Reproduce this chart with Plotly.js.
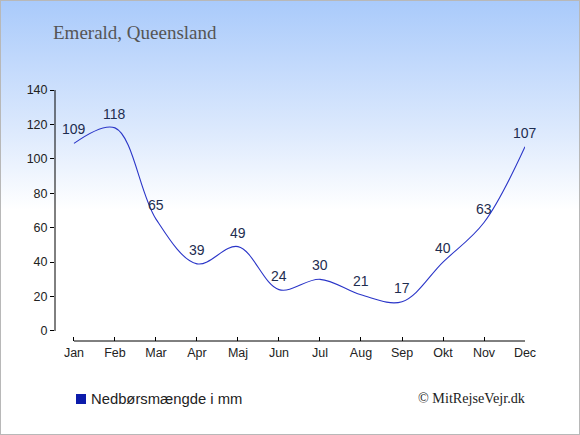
<!DOCTYPE html>
<html>
<head>
<meta charset="utf-8">
<script src="https://cdn.plot.ly/plotly-3.0.1.min.js"></script>
<style>
html,body{margin:0;padding:0;background:#fff;}
#wrap{position:relative;width:580px;height:435px;background:linear-gradient(to bottom,#a9cafb 0px,#dce9fd 130px,#ffffff 210px,#ffffff 435px);}
#chart{position:absolute;left:0;top:0;width:580px;height:435px;}
#border{position:absolute;left:0;top:0;width:580px;height:435px;box-sizing:border-box;border:1px solid #b8b8b8;pointer-events:none;}
</style>
</head>
<body>
<div id="wrap"><div id="chart"></div><div id="border"></div></div>
<script>
const months = ["Jan","Feb","Mar","Apr","Maj","Jun","Jul","Aug","Sep","Okt","Nov","Dec"];
const rainfall = [109,118,65,39,49,24,30,21,17,40,63,107];
const yTicks = [0,20,40,60,80,100,120,140];
const titleText = "Emerald, Queensland";
const legendText = "Nedbørsmængde i mm";
const creditText = "© MitRejseVejr.dk";

const xIdx = months.map((m,i)=>i);

const trace = {
  x: xIdx,
  y: rainfall,
  mode: "lines",
  line: {shape: "spline", smoothing: 1, color: "#2a35c8", width: 1.1},
  hoverinfo: "none",
  showlegend: false
};

const valueLabels = rainfall.map((v,i)=>({
  text: String(v), xref: "x", yref: "y", x: xIdx[i], y: v,
  xanchor: "center", yanchor: "middle", yshift: 14, showarrow: false,
  font: {family: "Liberation Sans, Arial, sans-serif", size: 14, color: "#1e2d50"}
}));

const layout = {
  width: 580, height: 435,
  margin: {l: 55, r: 55, t: 90, b: 94},
  paper_bgcolor: "rgba(0,0,0,0)",
  plot_bgcolor: "rgba(0,0,0,0)",
  showlegend: false,
  xaxis: {
    range: [-0.463, 11],
    tickvals: xIdx, ticktext: months,
    ticks: "inside", ticklen: 4, tickcolor: "#000", tickwidth: 1,
    showgrid: false, zeroline: false, showline: false,
    tickfont: {family: "Liberation Sans, Arial, sans-serif", size: 12.5, color: "#222"},
    ticklabelstandoff: 2,
    fixedrange: true
  },
  yaxis: {
    range: [-5.833, 140],
    tickvals: yTicks,
    ticks: "outside", ticklen: 4, tickcolor: "#000", tickwidth: 1,
    showgrid: false, zeroline: false, showline: false,
    tickfont: {family: "Liberation Sans, Arial, sans-serif", size: 12.5, color: "#222"},
    fixedrange: true
  },
  shapes: [
    {type: "line", xref: "paper", yref: "y", x0: 0, x1: 0, y0: 0, y1: 140, line: {color: "#000", width: 1}},
    {type: "line", xref: "x", yref: "paper", x0: 0, x1: 11, y0: 0, y1: 0, line: {color: "#000", width: 1}},
    {type: "rect", xref: "paper", yref: "paper", xsizemode: "pixel", ysizemode: "pixel",
     xanchor: 0, yanchor: 0, x0: 76 - 55, x1: 86 - 55, y0: -(394 - 341), y1: -(404 - 341),
     fillcolor: "#0c1cab", line: {width: 0}}
  ],
  annotations: [
    {text: titleText, xref: "paper", yref: "paper", x: -0.008, y: 1, xanchor: "left", yanchor: "middle",
     xshift: 0, yshift: 58, showarrow: false,
     font: {family: "Liberation Serif, Georgia, serif", size: 19, color: "#555"}},
    {text: legendText, xref: "paper", yref: "paper", x: 0, y: 0, xanchor: "left", yanchor: "middle",
     xshift: 91 - 55 - 2, yshift: -(399 - 341), showarrow: false,
     font: {family: "Liberation Sans, Arial, sans-serif", size: 14.8, color: "#222"}},
    {text: creditText, xref: "paper", yref: "paper", x: 0, y: 0, xanchor: "right", yanchor: "middle",
     xshift: 526 - 55 + 2, yshift: -(398 - 341), showarrow: false,
     font: {family: "Liberation Serif, Georgia, serif", size: 14.2, color: "#222"}}
  ].concat(valueLabels)
};

Plotly.newPlot("chart", [trace], layout, {displayModeBar: false, staticPlot: true});
</script>
</body>
</html>
